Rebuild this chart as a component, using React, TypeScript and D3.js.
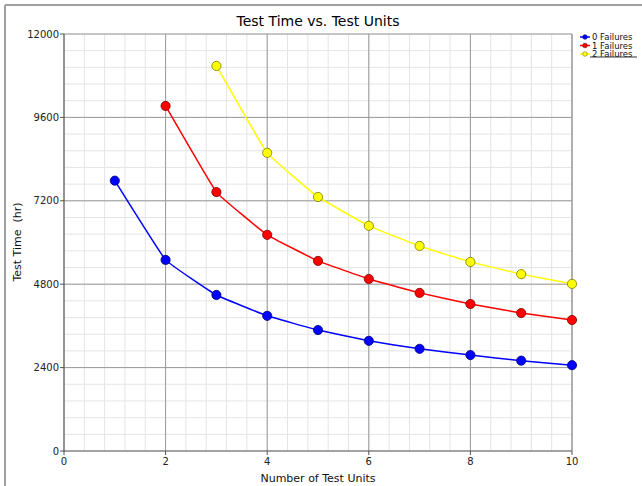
import React from "react";
import * as d3 from "d3";

const units = [1, 2, 3, 4, 5, 6, 7, 8, 9, 10];
const failures0 = [7780, 5500, 4490, 3890, 3480, 3170, 2940, 2760, 2600, 2470];
const failures1 = [null, 9930, 7450, 6220, 5470, 4950, 4550, 4230, 3970, 3770];
const failures2 = [null, null, 11080, 8580, 7310, 6480, 5900, 5440, 5090, 4810];
const seriesNames = ["0 Failures", "1 Failures", "2 Failures"];
const seriesColors = ["#0000ff", "#ff0000", "#ffff00"];
const seriesStroke = ["#00007a", "#7a0000", "#7a7a00"];
const xTicks = [0, 2, 4, 6, 8, 10];
const yTicks = [0, 2400, 4800, 7200, 9600, 12000];

const W = 642, H = 486;
const L = 64, R = 572, T = 34, B = 451;

export default function App() {
  const x = d3.scaleLinear().domain([0, 10]).range([L, R]);
  const y = d3.scaleLinear().domain([0, 12000]).range([B, T]);
  const minorX = d3.range(0, 10.001, 0.4);
  const minorY = d3.range(0, 12001, 480);
  const all = [failures0, failures1, failures2];
  const line = d3
    .line<[number, number]>()
    .x((d) => x(d[0]))
    .y((d) => y(d[1]))
    .curve(d3.curveCardinal.tension(0.75));
  const font = "'DejaVu Sans', Verdana, sans-serif";
  return (
    <svg width={W} height={H} style={{ position: "absolute", left: 0, top: 0, background: "#fff" }} fontFamily={font}>
      <rect x={0} y={0} width={W} height={H} fill="#fff" />
      <line x1={5} y1={5} x2={W} y2={5} stroke="#a0a0a0" strokeWidth={2} />
      <line x1={5} y1={5} x2={5} y2={H} stroke="#a0a0a0" strokeWidth={2} />
      <text x={318} y={26} textAnchor="middle" fontSize={14} fill="#000">
        Test Time vs. Test Units
      </text>
      {minorX.map((v, i) => (
        <line key={"mx" + i} x1={x(v)} x2={x(v)} y1={T} y2={B} stroke="#e4e4e4" strokeWidth={1} />
      ))}
      {minorY.map((v, i) => (
        <line key={"my" + i} x1={L} x2={R} y1={y(v)} y2={y(v)} stroke="#e4e4e4" strokeWidth={1} />
      ))}
      {xTicks.slice(1, -1).map((v) => (
        <line key={"gx" + v} x1={x(v)} x2={x(v)} y1={T} y2={B} stroke="#9a9a9a" strokeWidth={1} />
      ))}
      {yTicks.slice(1, -1).map((v) => (
        <line key={"gy" + v} x1={L} x2={R} y1={y(v)} y2={y(v)} stroke="#9a9a9a" strokeWidth={1} />
      ))}
      <line x1={L} x2={R} y1={T} y2={T} stroke="#9a9a9a" strokeWidth={1} />
      <line x1={R} x2={R} y1={T} y2={B} stroke="#9a9a9a" strokeWidth={1.5} />
      <line x1={L} x2={L} y1={T} y2={B + 1} stroke="#555" strokeWidth={1.2} />
      <line x1={L} x2={R} y1={B} y2={B} stroke="#555" strokeWidth={1.2} />
      {yTicks.map((v) => (
        <g key={"ty" + v}>
          <line x1={L - 4} x2={L} y1={y(v)} y2={y(v)} stroke="#555" />
          <text x={L - 5} y={y(v) + 3.5} textAnchor="end" fontSize={10} fill="#222">
            {v}
          </text>
        </g>
      ))}
      {xTicks.map((v) => (
        <g key={"tx" + v}>
          <line x1={x(v)} x2={x(v)} y1={B} y2={B + 4} stroke="#555" />
          <text x={x(v)} y={B + 14} textAnchor="middle" fontSize={10} fill="#222">
            {v}
          </text>
        </g>
      ))}
      <text x={318} y={482} textAnchor="middle" fontSize={11} fill="#111">
        Number of Test Units
      </text>
      <text transform={`translate(21,${242}) rotate(-90)`} textAnchor="middle" fontSize={11} fill="#111">
        Test Time&#160;&#160;(hr)
      </text>
      {all.map((vals, si) => {
        const pts = units
          .map((u, i) => [u, vals[i]] as [number, number | null])
          .filter((d) => d[1] !== null) as [number, number][];
        return (
          <g key={"s" + si}>
            <path d={line(pts) || ""} fill="none" stroke={seriesColors[si]} strokeWidth={1.5} />
            {pts.map((p, i) => (
              <circle key={i} cx={x(p[0])} cy={y(p[1])} r={4.6} fill={seriesColors[si]} stroke={seriesStroke[si]} strokeWidth={0.8} />
            ))}
          </g>
        );
      })}
      {seriesNames.map((n, i) => {
        const ly = 37 + i * 8.5;
        return (
          <g key={"lg" + i}>
            <line x1={580} x2={590} y1={ly} y2={ly} stroke={seriesColors[i]} strokeWidth={1.5} />
            <circle cx={585} cy={ly} r={2.3} fill={seriesColors[i]} stroke={seriesStroke[i]} strokeWidth={0.6} />
            <text x={592} y={ly + 3} fontSize={8.5} fill="#111">
              {n}
            </text>
          </g>
        );
      })}
      <line x1={590} x2={637} y1={57} y2={57} stroke="#333" strokeWidth={1} />
    </svg>
  );
}
